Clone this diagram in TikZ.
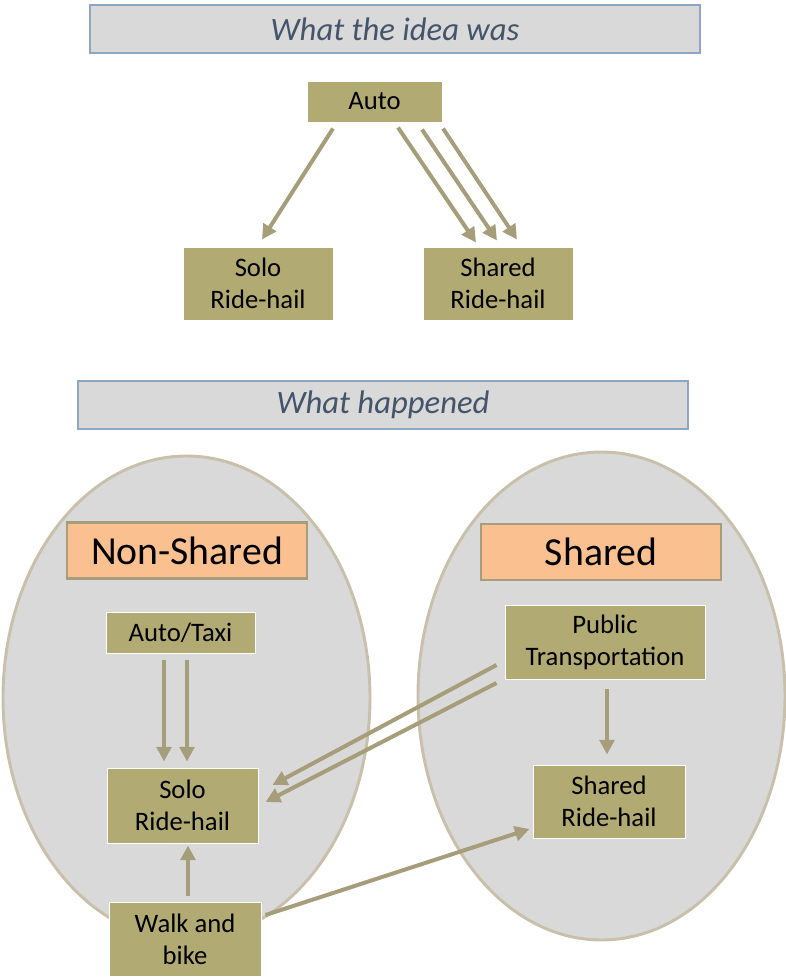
\documentclass[tikz,border=0pt]{standalone}
\usepackage{fontspec}
\setmainfont{Carlito}
\usepackage{tikz}
\usetikzlibrary{arrows.meta, calc}

\definecolor{olive}{HTML}{B1AB73}
\definecolor{arrowc}{HTML}{A69D7A}
\definecolor{peach}{HTML}{FAC090}
\definecolor{pale}{HTML}{D9D9D9}
\definecolor{rimc}{HTML}{C8C0AA}
\definecolor{titleline}{HTML}{8EA6C4}
\definecolor{titletext}{HTML}{44546A}

\tikzset{
  titlebox/.style={draw=titleline, fill=pale, line width=0.8pt, inner sep=0pt,
    minimum width=457.5pt, minimum height=36pt,
    font=\fontsize{24.5}{28}\selectfont\itshape, text=titletext},
  modebox/.style={draw=white, fill=olive, line width=0.75pt, inner sep=0pt, align=center,
    font=\fontsize{20}{24}\selectfont},
  groupbox/.style={draw=arrowc, fill=peach, line width=2.2pt, inner sep=0pt,
    minimum width=180pt, minimum height=42pt, font=\fontsize{29.8}{34}\selectfont},
  groupring/.style={draw=rimc, fill=pale, line width=2.2pt},
  flow/.style={draw=arrowc, line width=3pt, -{Triangle[length=11pt, width=11pt]}}
}

\begin{document}
\begin{tikzpicture}[x=0.75pt, y=-0.75pt]
  \useasboundingbox (0,0) rectangle (786,979);
  %上：想定していた流れ
  \node[titlebox] (idea) at (395,29) {What the idea was};
  \node[modebox, minimum width=101.25pt, minimum height=30.75pt] (auto) at (374.5,101.5) {Auto};
  \node[modebox, minimum width=112.5pt, minimum height=54.75pt] (solo1) at (258,283.5) {Solo\\Ride-hail};
  \node[modebox, minimum width=112.5pt, minimum height=54.75pt] (shared1) at (498,283.5) {Shared\\Ride-hail};
  \draw[flow] ($(auto.south)+(-41.5,6)$) -- ($(solo1.north)+(4,-7)$);
  \draw[flow] ($(auto.south)+(23.5,5)$) -- ($(shared1.north)+(-22,-4)$);
  \draw[flow] ($(auto.south)+(47.5,7)$) -- ($(shared1.north)+(-1,-6)$);
  \draw[flow] ($(auto.south)+(68.5,6)$) -- ($(shared1.north)+(19,-7)$);

  %下：実際に起きたこと
  \node[titlebox] (happened) at (383,405) {What happened};
  \draw[groupring] (186.5,698) ellipse [x radius=183.5, y radius=242];
  \draw[groupring] (601.5,696) ellipse [x radius=183.5, y radius=244];
  \node[groupbox] (nonshared) at (187,550.5) {Non-Shared};
  \node[groupbox] (sharedhd) at (601,552) {Shared};
  \node[modebox, minimum width=111.75pt, minimum height=30.75pt] (taxi) at (180.5,632.5) {Auto/Taxi};
  \node[modebox, minimum width=113.25pt, minimum height=56.25pt] (solo2) at (182.5,805.5) {Solo\\Ride-hail};
  \node[modebox, minimum width=150pt, minimum height=55.5pt] (transit) at (605,642) {Public\\Transportation};
  \node[modebox, minimum width=114pt, minimum height=54.75pt] (shared2) at (609,801.5) {Shared\\Ride-hail};
  \node[modebox, minimum width=114pt, minimum height=55.5pt] (walk) at (185,939) {Walk and\\bike};

  \draw[flow] ($(taxi.south)+(-16.5,6)$) -- ($(solo2.north)+(-18.5,-6)$);
  \draw[flow] ($(taxi.south)+(6.5,6)$) -- ($(solo2.north)+(4.5,-6)$);
  \draw[flow] ($(transit.west)+(-8,23)$) -- ($(solo2.east)+(14,-20.5)$);
  \draw[flow] ($(transit.west)+(-8,41)$) -- ($(solo2.east)+(7,-3.5)$);
  \draw[flow] ($(transit.south)+(2,9)$) -- ($(shared2.north)+(-2,-10)$);
  \draw[flow] ($(walk.north)+(3,-6)$) -- ($(solo2.south)+(5.5,2)$);
  \draw[flow] ($(walk.east)+(4,-24)$) -- ($(shared2.west)+(-3,27.5)$);
\end{tikzpicture}
\end{document}
